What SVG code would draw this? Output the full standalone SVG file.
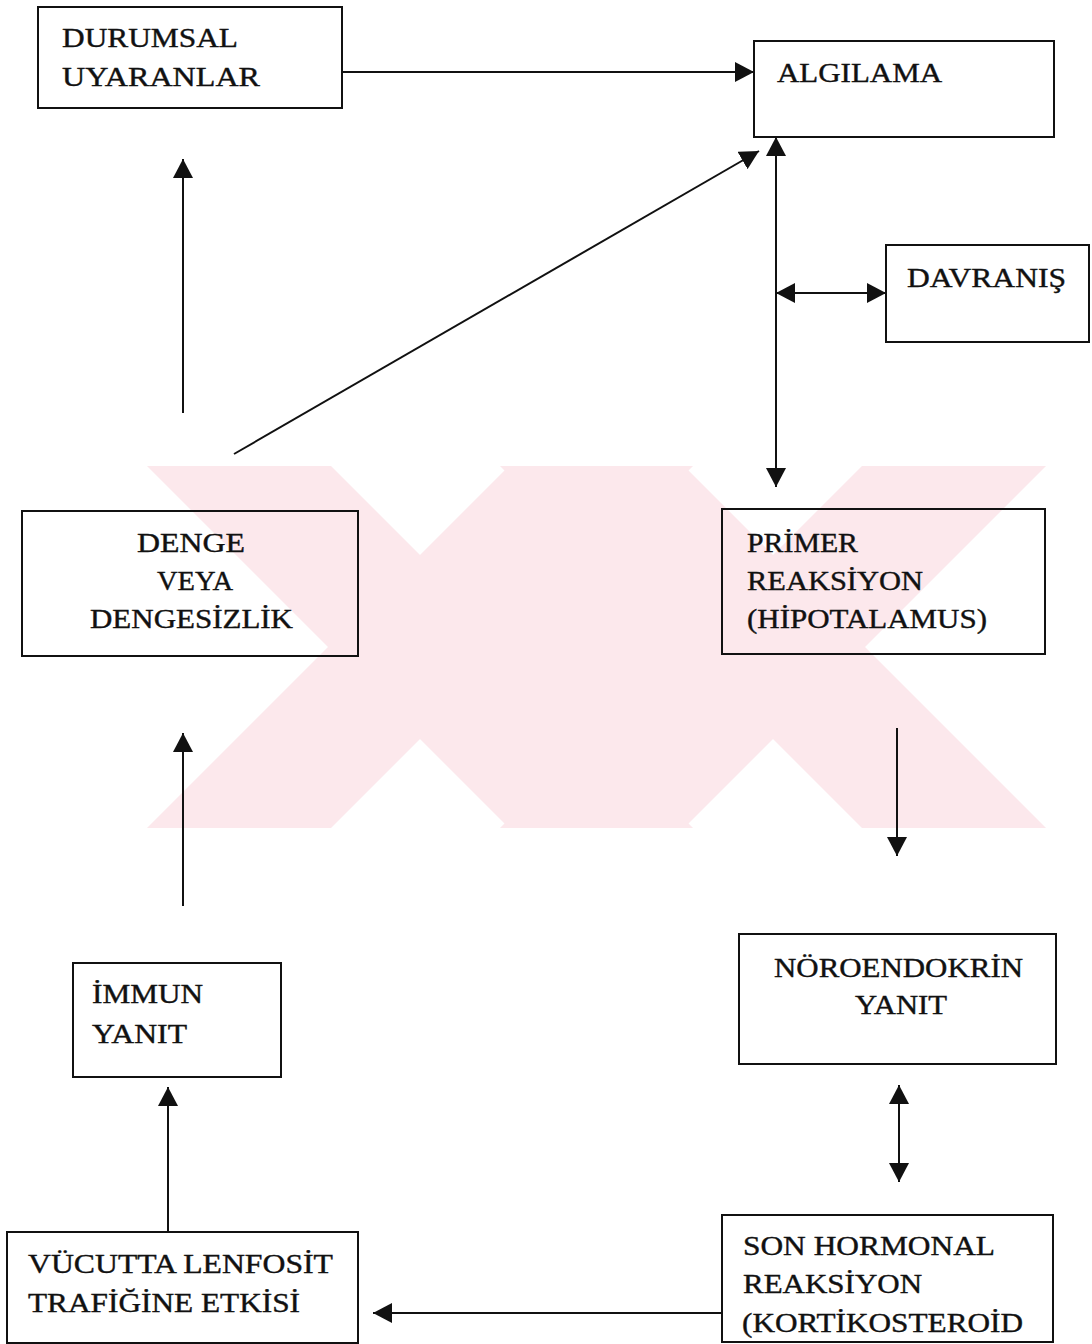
<svg xmlns="http://www.w3.org/2000/svg" width="1092" height="1344" viewBox="0 0 1092 1344">
<defs>
<style>
.box{fill:none;stroke:#111;stroke-width:2}
.lbl{font-family:"Liberation Serif","Times New Roman",serif;font-size:28px;fill:#111;stroke:#111;stroke-width:0.4}
.con{stroke:#111;stroke-width:2;fill:none}
.wm{fill:#fce8ec}
</style>
<marker id="ah" viewBox="0 0 19 20" refX="19" refY="10" markerWidth="19" markerHeight="20" markerUnits="userSpaceOnUse" orient="auto-start-reverse">
<path d="M0,0 L19,10 L0,20 z" fill="#111"/>
</marker>
<clipPath id="wmclip"><rect x="0" y="466" width="1092" height="362"/></clipPath>
</defs>
<rect width="1092" height="1344" fill="#fff"/>
<g id="watermark" clip-path="url(#wmclip)">
<polygon class="wm" points="147,466 331,466 693,828 509,828"/>
<polygon class="wm" points="509,466 693,466 331,828 147,828"/>
<polygon class="wm" points="500,466 684,466 1046,828 862,828"/>
<polygon class="wm" points="862,466 1046,466 684,828 500,828"/>
<polygon class="wm" points="505,647 597,555 689,647 597,739"/>
</g>
<g id="connectors">
<line class="con" x1="342" y1="72" x2="754" y2="72" marker-end="url(#ah)"/>
<line class="con" x1="183" y1="413" x2="183" y2="159" marker-end="url(#ah)"/>
<line class="con" x1="234" y1="454" x2="759" y2="151" marker-end="url(#ah)"/>
<line class="con" x1="776" y1="137" x2="776" y2="487" marker-start="url(#ah)" marker-end="url(#ah)"/>
<line class="con" x1="776" y1="293" x2="886" y2="293" marker-start="url(#ah)" marker-end="url(#ah)"/>
<line class="con" x1="897" y1="728" x2="897" y2="856" marker-end="url(#ah)"/>
<line class="con" x1="899" y1="1085" x2="899" y2="1182" marker-start="url(#ah)" marker-end="url(#ah)"/>
<line class="con" x1="722" y1="1313" x2="373" y2="1313" marker-end="url(#ah)"/>
<line class="con" x1="168" y1="1232" x2="168" y2="1087" marker-end="url(#ah)"/>
<line class="con" x1="183" y1="906" x2="183" y2="733" marker-end="url(#ah)"/>
</g>
<g id="durumsal">
<rect class="box" x="38" y="7" width="304" height="101"/>
<text class="lbl" x="62" y="47" textLength="176" lengthAdjust="spacingAndGlyphs">DURUMSAL</text>
<text class="lbl" x="62" y="86" textLength="198" lengthAdjust="spacingAndGlyphs">UYARANLAR</text>
</g>
<g id="algilama">
<rect class="box" x="754" y="41" width="300" height="96"/>
<text class="lbl" x="777" y="82" textLength="165" lengthAdjust="spacingAndGlyphs">ALGILAMA</text>
</g>
<g id="davranis">
<rect class="box" x="886" y="245" width="203" height="97"/>
<text class="lbl" x="907" y="287" textLength="159" lengthAdjust="spacingAndGlyphs">DAVRANIŞ</text>
</g>
<g id="denge">
<rect class="box" x="22" y="511" width="336" height="145"/>
<text class="lbl" x="137" y="552" textLength="108" lengthAdjust="spacingAndGlyphs">DENGE</text>
<text class="lbl" x="157" y="590" textLength="76" lengthAdjust="spacingAndGlyphs">VEYA</text>
<text class="lbl" x="90" y="628" textLength="203" lengthAdjust="spacingAndGlyphs">DENGESİZLİK</text>
</g>
<g id="primer">
<rect class="box" x="722" y="509" width="323" height="145"/>
<text class="lbl" x="747" y="552" textLength="111" lengthAdjust="spacingAndGlyphs">PRİMER</text>
<text class="lbl" x="747" y="590" textLength="176" lengthAdjust="spacingAndGlyphs">REAKSİYON</text>
<text class="lbl" x="747" y="628" textLength="240" lengthAdjust="spacingAndGlyphs">(HİPOTALAMUS)</text>
</g>
<g id="noroendokrin">
<rect class="box" x="739" y="934" width="317" height="130"/>
<text class="lbl" x="774" y="977" textLength="249" lengthAdjust="spacingAndGlyphs">NÖROENDOKRİN</text>
<text class="lbl" x="855" y="1014" textLength="92" lengthAdjust="spacingAndGlyphs">YANIT</text>
</g>
<g id="immun">
<rect class="box" x="73" y="963" width="208" height="114"/>
<text class="lbl" x="92" y="1003" textLength="111" lengthAdjust="spacingAndGlyphs">İMMUN</text>
<text class="lbl" x="92" y="1043" textLength="95" lengthAdjust="spacingAndGlyphs">YANIT</text>
</g>
<g id="son-hormonal">
<rect class="box" x="722" y="1215" width="331" height="127"/>
<text class="lbl" x="743" y="1255" textLength="252" lengthAdjust="spacingAndGlyphs">SON HORMONAL</text>
<text class="lbl" x="743" y="1293" textLength="179" lengthAdjust="spacingAndGlyphs">REAKSİYON</text>
<text class="lbl" x="742" y="1332" textLength="281" lengthAdjust="spacingAndGlyphs">(KORTİKOSTEROİD</text>
</g>
<g id="vucutta">
<rect class="box" x="7" y="1232" width="351" height="111"/>
<text class="lbl" x="28" y="1273" textLength="305" lengthAdjust="spacingAndGlyphs">VÜCUTTA LENFOSİT</text>
<text class="lbl" x="28" y="1312" textLength="272" lengthAdjust="spacingAndGlyphs">TRAFİĞİNE ETKİSİ</text>
</g>
</svg>
